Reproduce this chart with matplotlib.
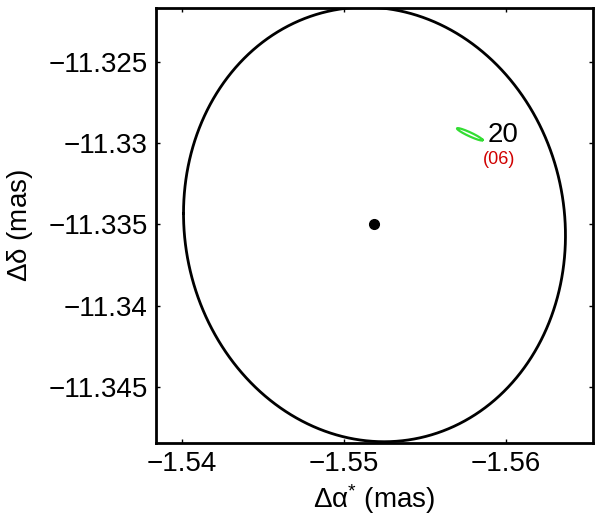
import numpy as np
import matplotlib
matplotlib.use("Agg")
import matplotlib.pyplot as plt

plt.rcParams.update({
    "font.family": ["Liberation Sans", "DejaVu Sans"],
    "mathtext.fontset": "custom",
    "mathtext.rm": "Liberation Sans",
    "mathtext.it": "Liberation Sans",
    "axes.linewidth": 2.0,
    "xtick.direction": "in",
    "ytick.direction": "in",
})

# big error ellipse (centre, covariance in mas)
big_center = (-1.5519, -11.3350)
big_sx, big_sy, big_sxy = 0.0118, 0.0134, 8.0e-6

# small green ellipse: centre, major and minor half-axis vectors (mas)
green_center = (-1.55779, -11.32944)
green_major = (-0.000790, -0.000345)
green_minor = (0.00007, 0.000165)

dot_x, dot_y = -1.5519, -11.3350

label_main = "20"
label_sub = "(06)"
label_main_pos = (-1.55889, -11.32951)
label_sub_pos = (-1.55959, -11.33098)

x_ticks = [-1.54, -1.55, -1.56]
y_ticks = [-11.325, -11.33, -11.335, -11.34, -11.345]
x_tick_labels = ["\u22121.54", "\u22121.55", "\u22121.56"]
y_tick_labels = ["\u221211.325", "\u221211.33", "\u221211.335", "\u221211.34", "\u221211.345"]

t = np.linspace(0, 2 * np.pi, 400)

fig = plt.figure(figsize=(6.0, 5.17), dpi=100)
ax = fig.add_axes([0.26, 0.1431, 0.7283, 0.8414])

# big ellipse from covariance
cov = np.array([[big_sx ** 2, big_sxy], [big_sxy, big_sy ** 2]])
L = np.linalg.cholesky(cov)
pts = L @ np.vstack([np.cos(t), np.sin(t)])
ax.plot(big_center[0] + pts[0], big_center[1] + pts[1], color="black", linewidth=2.0)

# green ellipse
gx = green_center[0] + green_major[0] * np.cos(t) + green_minor[0] * np.sin(t)
gy = green_center[1] + green_major[1] * np.cos(t) + green_minor[1] * np.sin(t)
ax.plot(gx, gy, color="#33dd33", linewidth=1.6)

ax.plot(dot_x, dot_y, "o", color="black", markersize=7)

ax.text(*label_main_pos, label_main, fontsize=20, color="black",
        ha="left", va="center")
ax.text(*label_sub_pos, label_sub, fontsize=13, color="#d00000",
        ha="center", va="center")

ax.set_xlim(-1.5384, -1.5654)
ax.set_ylim(-11.34848, -11.32165)
ax.set_xticks(x_ticks)
ax.set_xticklabels(x_tick_labels)
ax.set_yticks(y_ticks)
ax.set_yticklabels(y_tick_labels)
ax.tick_params(labelsize=20, length=3, width=1.0, top=True, right=True, pad=6)

ax.set_xlabel(r"$\mathregular{\Delta\alpha^{*}}$ (mas)", fontsize=20)
ax.set_ylabel(r"$\mathregular{\Delta\delta}$ (mas)", fontsize=20)
ax.xaxis.set_label_coords(0.5, -0.09)
ax.yaxis.set_label_coords(-0.278, 0.5)

fig.savefig("out.png", dpi=100)
